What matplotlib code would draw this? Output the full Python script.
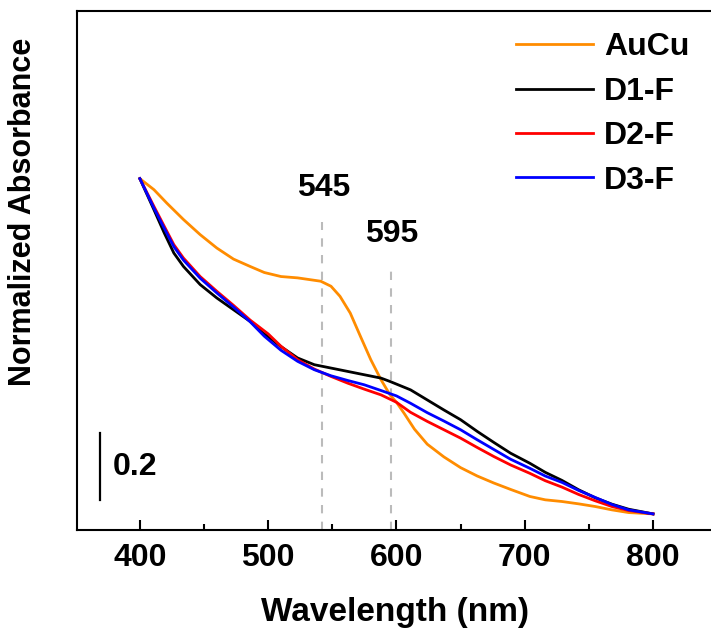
import matplotlib
matplotlib.use("Agg")
import matplotlib.pyplot as plt
from matplotlib.ticker import MultipleLocator

plt.rcParams["font.family"] = ["Liberation Sans", "DejaVu Sans"]
plt.rcParams["font.weight"] = "bold"

# --- data (normalized absorbance) ---
wl_aucu = [400, 411, 421, 434, 447, 460, 473, 486, 497, 510, 523, 541, 549, 556, 564, 572, 580,
           588, 595, 600, 606, 614, 624, 637, 650, 663, 676, 689, 704, 716, 729, 742, 755, 768, 781, 800]
abs_aucu = [1.0, 0.967, 0.927, 0.878, 0.833, 0.793, 0.760, 0.738, 0.720, 0.708, 0.704, 0.694, 0.679,
            0.649, 0.599, 0.529, 0.460, 0.400, 0.355, 0.333, 0.300, 0.253, 0.208, 0.170, 0.138, 0.113,
            0.092, 0.073, 0.052, 0.042, 0.037, 0.030, 0.022, 0.012, 0.004, 0.0]

wl_d1 = [400, 411, 419, 426.5, 434, 447, 460, 473, 486, 497, 510, 523, 536, 549, 562, 575, 588, 595,
         611, 624, 637, 650, 663, 676, 689, 704, 716, 729, 742, 755, 768, 781, 800]
abs_d1 = [1.0, 0.907, 0.838, 0.778, 0.738, 0.684, 0.644, 0.609, 0.574, 0.537, 0.499, 0.465, 0.445,
          0.435, 0.425, 0.415, 0.405, 0.395, 0.370, 0.340, 0.310, 0.281, 0.246, 0.213, 0.181, 0.151,
          0.124, 0.100, 0.072, 0.048, 0.029, 0.014, 0.0]

wl_d2 = [400, 411, 419, 426.5, 434, 447, 460, 473, 486, 500, 510, 523, 536, 549, 562, 575, 588, 600,
         611, 624, 637, 650, 663, 676, 689, 704, 716, 729, 742, 755, 768, 781, 800]
abs_d2 = [1.0, 0.917, 0.858, 0.803, 0.763, 0.708, 0.664, 0.622, 0.578, 0.537, 0.500, 0.460, 0.432,
          0.410, 0.390, 0.372, 0.355, 0.333, 0.303, 0.276, 0.251, 0.226, 0.198, 0.171, 0.146, 0.121,
          0.099, 0.080, 0.058, 0.039, 0.022, 0.010, 0.0]

wl_d3 = [400, 411, 419, 426.5, 434, 447, 460, 473, 486, 497, 510, 523, 536, 549, 562, 575, 588, 600,
         611, 624, 637, 650, 663, 676, 689, 704, 716, 729, 742, 755, 768, 781, 800]
abs_d3 = [1.0, 0.912, 0.852, 0.797, 0.757, 0.703, 0.659, 0.617, 0.573, 0.530, 0.488, 0.455, 0.430,
          0.412, 0.398, 0.385, 0.368, 0.352, 0.330, 0.302, 0.277, 0.251, 0.221, 0.192, 0.163, 0.136,
          0.113, 0.094, 0.070, 0.049, 0.028, 0.012, 0.0]

labels = ["AuCu", "D1-F", "D2-F", "D3-F"]
colors = ["#ff8c00", "black", "red", "blue"]

peak_pos = [542, 595.5]
peak_text = ["545", "595"]
peak_top = [0.872, 0.737]
peak_label_y = [0.973, 0.836]

fig = plt.figure(figsize=(7.11, 6.37), dpi=100)
# axes box runs off the right edge like the original
ax = fig.add_axes([77 / 711, 107 / 637, 653 / 711, 519 / 637])

series = [(wl_aucu, abs_aucu), (wl_d1, abs_d1), (wl_d2, abs_d2), (wl_d3, abs_d3)]
for (x, y), lab, c in zip(series, labels, colors):
    ax.plot(x, y, color=c, lw=2.0, label=lab, solid_joinstyle="round")

ax.set_xlim(351, 860)
ax.set_ylim(-0.048, 1.50)

# peak markers
for p, t, top, ly in zip(peak_pos, peak_text, peak_top, peak_label_y):
    ax.plot([p, p], [-0.048, top], color="#bbbbbb", lw=1.5, ls=(0, (4, 4)), zorder=0)
    ax.text(p + 1, ly, t, ha="center", va="center", fontsize=23, fontweight="bold")

# scale bar
ax.plot([369, 369], [0.042, 0.242], color="black", lw=1.6)
ax.text(379, 0.14, "0.2", ha="left", va="center", fontsize=23, fontweight="bold")

ax.xaxis.set_major_locator(MultipleLocator(100))
ax.xaxis.set_minor_locator(MultipleLocator(50))
ax.set_yticks([])
ax.tick_params(axis="x", which="major", direction="in", length=7, width=1.5, labelsize=23, pad=9)
ax.tick_params(axis="x", which="minor", direction="in", length=4, width=1.5)
ax.tick_params(top=False, right=False)
for s in ax.spines.values():
    s.set_linewidth(1.5)

ax.set_xlabel("Wavelength (nm)", fontsize=24, fontweight="bold")
ax.xaxis.set_label_coords((395 - 77) / 653, -0.13)
fig.text(23 / 711, 1 - 212 / 637, "Normalized Absorbance", rotation=90,
         ha="center", va="center", fontsize=22, fontweight="bold")

leg = ax.legend(loc="upper left", bbox_to_anchor=(510 / 711, 1 - 26 / 637),
                bbox_transform=fig.transFigure, frameon=False, fontsize=23,
                handlelength=2.4, handletextpad=0.35, labelspacing=0.45,
                borderaxespad=0, borderpad=0.2)
for line in leg.get_lines():
    line.set_linewidth(2.0)

fig.savefig("out.png", dpi=100)
